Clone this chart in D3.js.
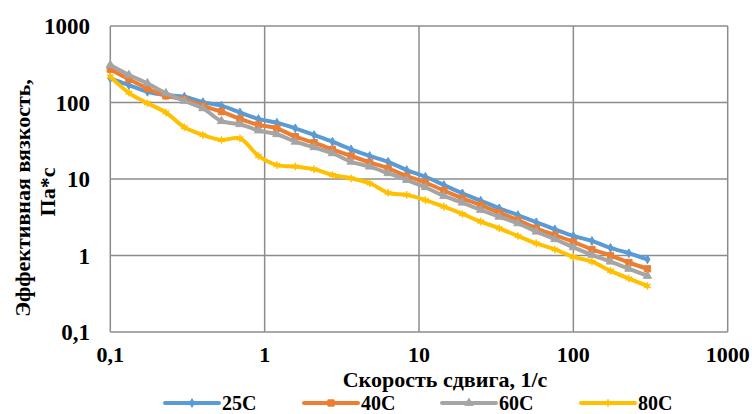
<!DOCTYPE html>
<html>
<head>
<meta charset="utf-8">
<script src="https://cdn.jsdelivr.net/npm/d3@7"></script>
<style>
  body { margin: 0; background: #fff; }
  svg text { font-family: "Liberation Serif", "Times New Roman", serif; font-weight: bold; fill: #000; }
</style>
</head>
<body>
<div id="chart"></div>
<script>

// shear rate, 1/s
var shearRate = [0.1, 0.132, 0.174, 0.229, 0.302, 0.398, 0.525, 0.692, 0.912, 1.2,
                 1.58, 2.09, 2.75, 3.63, 4.79, 6.31, 8.32, 11.0, 14.5, 19.1,
                 25.1, 33.1, 43.7, 57.5, 75.9, 100, 132, 174, 229, 302];

// effective viscosity, Pa*s
var visc25 = [207, 169, 138, 125, 119, 101, 91, 74, 61, 54.5,
              46, 37.6, 30.7, 24.4, 20, 16.8, 13.1, 10.7, 8.35, 6.5,
              5.2, 4.14, 3.38, 2.72, 2.2, 1.8, 1.55, 1.26, 1.07, 0.89];
var visc40 = [272, 201, 153, 122, 110, 90, 76, 61, 51, 46,
              35.7, 29.8, 24.4, 20, 16.5, 13.8, 10.9, 9.0, 7.04, 5.6,
              4.57, 3.63, 2.91, 2.27, 1.85, 1.51, 1.2, 1.0, 0.81, 0.67];
var visc60 = [309, 229, 178, 132, 105, 84, 57, 52, 43, 38.5,
              30.7, 26, 21.7, 16.8, 14.5, 11.9, 9.7, 7.8, 6.0, 4.9,
              3.94, 3.21, 2.63, 2.05, 1.63, 1.28, 1.02, 0.83, 0.67, 0.54];
var visc80 = [218, 134, 98, 74, 47.4, 37.6, 32.4, 34, 20, 15.2,
              14.6, 13.4, 11.3, 10.2, 8.8, 6.6, 6.2, 5.3, 4.35, 3.49,
              2.77, 2.27, 1.8, 1.44, 1.2, 0.96, 0.83, 0.63, 0.5, 0.4];

var seriesNames = ["25C", "40C", "60C", "80C"];
var seriesColors = ["#5B9BD5", "#ED7D31", "#A5A5A5", "#FFC000"];
var tickValues = [0.1, 1, 10, 100, 1000];
var tickLabels = ["0,1", "1", "10", "100", "1000"];

var xTitle = "Скорость сдвига, 1/с";
var yTitle1 = "Эффективная вязкость,";
var yTitle2 = "Па*с";

var W = 752, H = 414;
var plot = { left: 110.3, right: 727.7, top: 26, bottom: 332 };

var svg = d3.select("#chart")
    .append("svg")
    .attr("width", W)
    .attr("height", H);

var xScale = d3.scaleLog()
    .domain([0.1, 1000])
    .range([plot.left, plot.right]);

var yScale = d3.scaleLog()
    .domain([0.1, 1000])
    .range([plot.bottom, plot.top]);

// grid
svg.append("g")
    .selectAll("line")
    .data(tickValues).enter()
    .append("line")
    .attr("x1", function(d){ return xScale(d) })
    .attr("x2", function(d){ return xScale(d) })
    .attr("y1", plot.top)
    .attr("y2", plot.bottom)
    .attr("stroke", "#8c8c8c")
    .attr("stroke-width", 1.5);

svg.append("g")
    .selectAll("line")
    .data(tickValues).enter()
    .append("line")
    .attr("y1", function(d){ return yScale(d) })
    .attr("y2", function(d){ return yScale(d) })
    .attr("x1", plot.left)
    .attr("x2", plot.right)
    .attr("stroke", "#8c8c8c")
    .attr("stroke-width", 1.5);

// tick labels
svg.append("g")
    .selectAll("text")
    .data(tickValues).enter()
    .append("text")
    .attr("x", 90)
    .attr("y", function(d){ return yScale(d) })
    .attr("dy", "0.35em")
    .style("text-anchor", "end")
    .style("font-size", "23px")
    .text(function(d, i){ return tickLabels[i] });

svg.append("g")
    .selectAll("text")
    .data(tickValues).enter()
    .append("text")
    .attr("x", function(d){ return xScale(d) })
    .attr("y", 362)
    .style("text-anchor", "middle")
    .style("font-size", "22px")
    .text(function(d, i){ return tickLabels[i] });

// axis titles
svg.append("text")
    .attr("x", 445)
    .attr("y", 387)
    .style("text-anchor", "middle")
    .style("font-size", "22px")
    .text(xTitle);

svg.append("text")
    .attr("transform", "translate(30,198) rotate(-90)")
    .style("text-anchor", "middle")
    .style("font-size", "22px")
    .text(yTitle1);

svg.append("text")
    .attr("transform", "translate(55,192) rotate(-90)")
    .style("text-anchor", "middle")
    .style("font-size", "22px")
    .text(yTitle2);

// series
var allSeries = [visc25, visc40, visc60, visc80];
var symbols = [d3.symbolDiamond, d3.symbolSquare, d3.symbolTriangle, d3.symbolAsterisk];
var symbolSizes = [22, 40, 30, 40];

var line = d3.line()
    .x(function(d){ return xScale(d.x) })
    .y(function(d){ return yScale(d.y) })
    .curve(d3.curveCatmullRom);

allSeries.forEach(function(vals, k){
    var pts = vals.map(function(v, i){ return { x: shearRate[i], y: v } });

    svg.append("path")
        .datum(pts)
        .attr("d", line)
        .attr("fill", "none")
        .attr("stroke", seriesColors[k])
        .attr("stroke-width", 4)
        .attr("stroke-linejoin", "round")
        .attr("stroke-linecap", "round");

    svg.append("g")
        .selectAll("path")
        .data(pts).enter()
        .append("path")
        .attr("transform", function(d){ return "translate(" + xScale(d.x) + "," + yScale(d.y) + ")" })
        .attr("d", d3.symbol().type(symbols[k]).size(symbolSizes[k]))
        .attr("fill", k == 3 ? "none" : seriesColors[k])
        .attr("stroke", seriesColors[k])
        .attr("stroke-width", k == 3 ? 1.5 : 1);
});

// legend
var legendX = [165, 304, 442, 581];
var legend = svg.append("g");

seriesNames.forEach(function(name, k){
    legend.append("line")
        .attr("x1", legendX[k])
        .attr("x2", legendX[k] + 54)
        .attr("y1", 403)
        .attr("y2", 403)
        .attr("stroke", seriesColors[k])
        .attr("stroke-width", 4)
        .attr("stroke-linecap", "round");

    legend.append("path")
        .attr("transform", "translate(" + (legendX[k] + 27) + ",403)")
        .attr("d", d3.symbol().type(symbols[k]).size(symbolSizes[k]))
        .attr("fill", k == 3 ? "none" : seriesColors[k])
        .attr("stroke", seriesColors[k])
        .attr("stroke-width", k == 3 ? 1.5 : 1);

    legend.append("text")
        .attr("x", legendX[k] + 57)
        .attr("y", 409.5)
        .style("font-size", "20px")
        .text(name);
});

</script>
</body>
</html>
